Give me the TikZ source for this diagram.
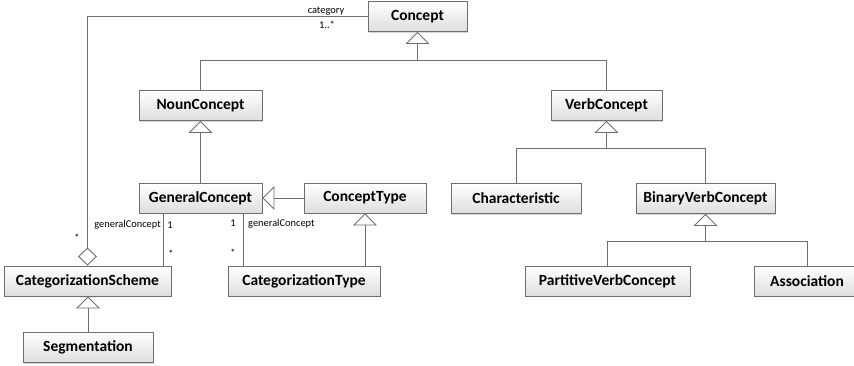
\documentclass[tikz,border=0pt]{standalone}
\usepackage{fontspec}
\setmainfont{Carlito}
\usetikzlibrary{arrows.meta,shadows}

\definecolor{edge}{HTML}{6E6E6E}

\tikzset{
  classbox/.style={draw=edge, line width=0.9pt, top color=white, bottom color=black!13,
    minimum height=30pt, inner sep=0pt, font=\fontsize{15.5}{18}\selectfont\bfseries,
    drop shadow={shadow xshift=1.2pt, shadow yshift=-1.2pt, fill=black!30, opacity=0.5}},
  link/.style={draw=edge, line width=0.9pt},
  gen/.style={link, -{Triangle[open, length=12pt, width=24pt, fill=white]}},
  agg/.style={link, -{Diamond[open, length=18pt, width=19pt, fill=white]}},
  lbl/.style={font=\fontsize{10.4}{12}\selectfont, inner sep=0pt, text=black},
}

\begin{document}
\begin{tikzpicture}[x=1pt, y=-1pt]
\useasboundingbox (0,0) rectangle (854,366);

% classes
\node[classbox, minimum width=99pt]  (concept) at (417.5,16.5) {Concept};
\node[classbox, minimum width=123pt] (noun)    at (200.5,105.5) {NounConcept};
\node[classbox, minimum width=111pt] (verb)    at (606.5,105.5) {VerbConcept};
\node[classbox, minimum width=123pt] (gc)      at (200.5,198) {GeneralConcept};
\node[classbox, minimum width=122pt] (ctype)   at (365,198) {ConceptType};
\node[classbox, minimum width=130pt] (charac)  at (516,198.5) {Characteristic};
\node[classbox, minimum width=139pt] (bvc)     at (705.5,198.5) {BinaryVerbConcept};
\node[classbox, minimum width=167pt] (cscheme) at (87.5,281) {CategorizationScheme};
\node[classbox, minimum width=152pt] (catype)  at (304,281) {CategorizationType};
\node[classbox, minimum width=165pt] (part)    at (607.5,281) {PartitiveVerbConcept};
\node[classbox, minimum width=106pt] (assoc)   at (807,281) {Association};
\node[classbox, minimum width=130pt] (seg)     at (88,347.5) {Segmentation};

% junction points of the generalisation trees
\coordinate (jtop)  at (417.5,60);
\coordinate (jverb) at (606.5,148);
\coordinate (jbvc)  at (705.5,241);

% generalisations
\draw[link] (noun.north) |- (jtop);
\draw[link] (verb.north) |- (jtop);
\draw[gen] (jtop) -- (concept.south);
\draw[gen] (gc.north) -- (noun.south);
\draw[gen] (ctype.west) -- (gc.east);
\draw[gen] (catype.north -| ctype.south) -- (ctype.south);
\draw[gen] (seg.north) -- (seg.north |- cscheme.south);
\draw[link] (charac.north) |- (jverb);
\draw[link] (bvc.north) |- (jverb);
\draw[gen] (jverb) -- (verb.south);
\draw[link] (part.north) |- (jbvc);
\draw[link] (assoc.north) |- (jbvc);
\draw[gen] (jbvc) -- (bvc.south);

% aggregation: categorization scheme groups concepts
\draw[agg] (concept.west) -| (cscheme.north);
\node[lbl] (lcat)  at (326,11) {category};
\node[lbl] (lcatm) at (327,25) {1..*};
\node[lbl] (lagg)  at (77,238) {*};

% associations to GeneralConcept
\coordinate (ga) at (163,0);
\coordinate (gb) at (243,0);
\draw[link] (gc.south -| ga) -- (cscheme.north -| ga);
\draw[link] (gc.south -| gb) -- (catype.north -| gb);
\node[lbl, anchor=east] (lgc1) at (161,225) {generalConcept};
\node[lbl] (lone1) at (170,225) {1};
\node[lbl] (lst1)  at (171,254) {*};
\node[lbl] (lone2) at (233,223) {1};
\node[lbl, anchor=west] (lgc2) at (248,224) {generalConcept};
\node[lbl] (lst2)  at (233,253) {*};
\end{tikzpicture}
\end{document}
